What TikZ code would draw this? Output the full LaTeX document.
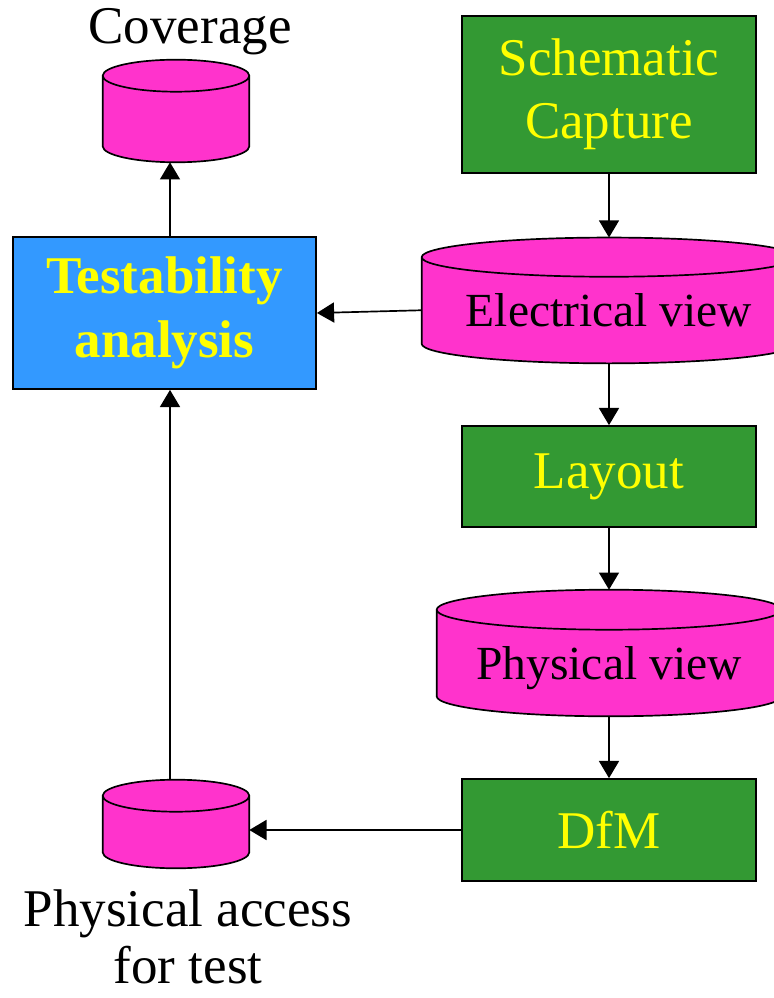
\documentclass[tikz,border=0pt]{standalone}
\usepackage{fontspec}
\setmainfont{Liberation Serif}
\usepackage{xcolor}
\usepackage{tikz}
\usetikzlibrary{arrows.meta,positioning,shapes.geometric,calc,backgrounds}
\definecolor{dbpink}{HTML}{FF33CC}
\definecolor{flowgreen}{HTML}{339933}
\definecolor{testblue}{HTML}{3399FF}
\definecolor{txtyellow}{HTML}{FFFF00}
\tikzstyle{proc}=[rectangle, draw=black, line width=1.2pt, fill=flowgreen, text=txtyellow,
  minimum width=7.35cm, align=center, inner sep=0pt,
  font=\fontsize{37.7pt}{44.6pt}\selectfont]
\tikzstyle{arrow}=[-{Triangle[length=0.43cm,width=0.5cm]}, line width=1.2pt]
\tikzstyle{dbline}=[draw=black, line width=1.2pt, fill=dbpink]
\newcommand{\bigtxt}{\fontsize{37.7pt}{44.6pt}\selectfont}
% drum outline round a node: north = top ellipse centre, south = lowest point
\newcommand{\drum}[2]{%
  \path[dbline] let \p1=(#1.north west), \p2=(#1.south east), \n1={(\x2-\x1)/2} in
    (\x1,\y1) -- (\x1,{\y2+#2}) arc[start angle=180,end angle=360,x radius=\n1,y radius=#2]
    -- (\x2,\y1) arc[start angle=0,end angle=180,x radius=\n1,y radius=#2] -- cycle
    (\x1,\y1) arc[start angle=180,end angle=360,x radius=\n1,y radius=#2];}

\begin{document}
\begin{tikzpicture}[x=0.025cm,y=-0.025cm,
  db/.style={rectangle,inner sep=0pt,align=center,text depth=0pt,
    font=\fontsize{33.8pt}{40pt}\selectfont},
  lbl/.style={align=center,inner sep=0pt,font=\bigtxt}]
\useasboundingbox (0,0) rectangle (774,998);

% design flow (right column)
\node[proc,minimum height=3.925cm] (sch) at (609,94.5) {Schematic\\Capture};
\node[db,minimum width=9.35cm,minimum height=2.64cm] (elec) at (609,310.25) {Electrical view};
\node[proc,minimum height=2.525cm] (lay) at (609,476.5) {Layout};
\node[db,minimum width=8.6cm,minimum height=2.65cm] (phys) at (609,663) {Physical view};
\node[proc,minimum height=2.55cm] (dfm) at (609,830) {DfM};

% test side (left column)
\node[proc,fill=testblue,minimum width=7.575cm,minimum height=3.8cm,
  font=\fontsize{37.7pt}{45.5pt}\selectfont\bfseries] (test) at (164.5,313) {Testability\\analysis};
\node[db,minimum width=3.65cm,minimum height=2.15cm] (cov) at (176,119) {};
\node[lbl,anchor=base] (covlbl) at (190,44) {Coverage};
\node[db,minimum width=3.65cm,minimum height=1.8cm] (acc) at (176,832) {};
\node[lbl,font=\fontsize{37.7pt}{40.5pt}\selectfont,anchor=base] (acclbl) at (188,983) {Physical access\\for test};

% databases
\begin{scope}[on background layer]
\drum{cov}{0.4cm}
\drum{elec}{0.49cm}
\drum{phys}{0.5cm}
\drum{acc}{0.4cm}
\end{scope}

\coordinate (vline) at (170,0);

% connectors
\draw[arrow] (sch.south) -- ([yshift=0.49cm]elec.north);
\draw[arrow] (elec.west) -- (test.east);
\draw[arrow] (elec.south) -- (lay.north);
\draw[arrow] (lay.south) -- ([yshift=0.5cm]phys.north);
\draw[arrow] (phys.south) -- (dfm.north);
\draw[arrow] (dfm.west) -- (dfm.west -| acc.east);
\draw[arrow] ([yshift=0.4cm]acc.north -| vline) -- (test.south -| vline);
\draw[arrow] (test.north -| vline) -- (cov.south -| vline);
\end{tikzpicture}
\end{document}
